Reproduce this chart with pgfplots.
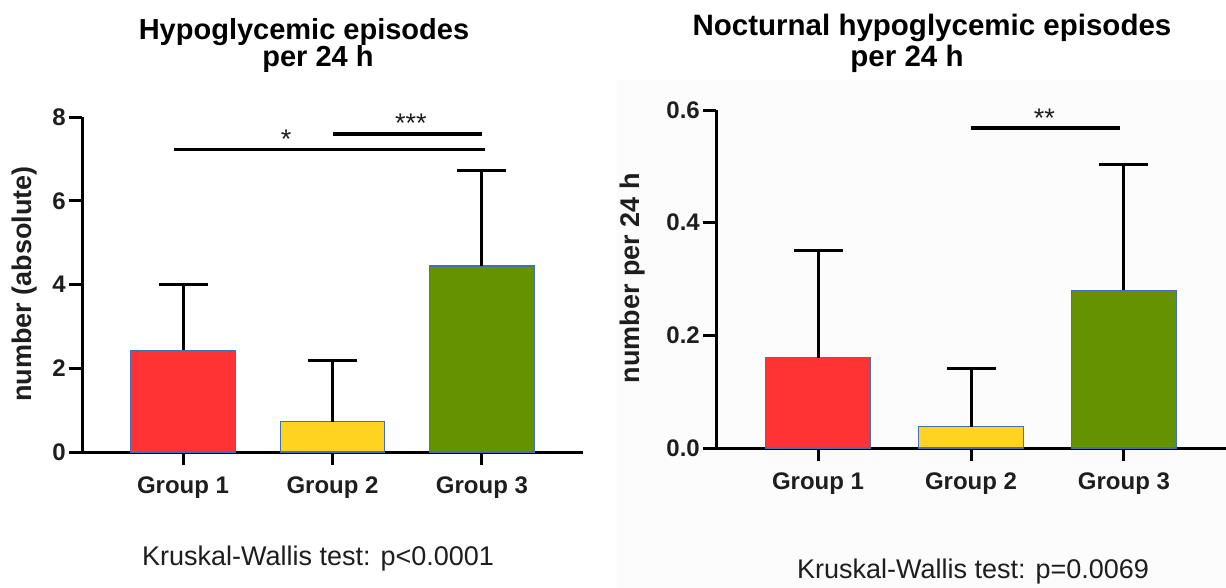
\documentclass[border=0pt]{standalone}
\usepackage{pgfplots}
\pgfplotsset{compat=1.18}
\usepackage{fontspec}
\setmainfont{Liberation Sans}
\definecolor{gred}{RGB}{255,51,51}
\definecolor{gyel}{RGB}{255,211,32}
\definecolor{ggrn}{RGB}{100,146,0}
\definecolor{edgec}{RGB}{70,110,180}
\definecolor{txt}{RGB}{30,30,30}
\pgfplotsset{
  mybars/.style={
    scale only axis, clip=false,
    axis x line=bottom, axis y line=left,
    axis line style={line width=3bp,-},
    tick align=outside, major tick length=13bp,
    major tick style={line width=3bp,black},
    xtick={1,2,3}, xticklabels={Group 1,Group 2,Group 3},
    ticklabel style={font=\bfseries\fontsize{24bp}{24bp}\selectfont, text=txt},
    xticklabel style={inner sep=0pt, yshift=-12bp},
    yticklabel style={inner sep=3bp},
  },
  gbar/.style={ybar, bar shift=0pt, bar width=#1, draw=edgec, line width=1.2bp,
    error bars/y dir=plus, error bars/y explicit,
    error bars/error bar style={line width=3bp, black},
    error bars/error mark options={rotate=90, line width=3bp, black, mark size=24.5bp}},
  sig/.style={line width=3.5bp, black, no markers},
}
\begin{document}
\begin{tikzpicture}
\useasboundingbox (0,0) rectangle (1226bp,-588bp);
\fill[white] (0,0) rectangle (1226bp,-588bp);
\fill[gray!2] (617bp,-80bp) rectangle (1226bp,-588bp);
% ---- left panel ----
\begin{axis}[mybars, at={(82bp,-452bp)}, anchor=south west,
  width=501bp, height=335bp, xmin=0.324, xmax=3.676, ymin=0, ymax=8,
  ytick={0,2,4,6,8}, yticklabels={0,2,4,6,8}]
\addplot[fill=gred, gbar=0.70] coordinates {(1,2.43) +- (0,1.58)};
\addplot[fill=gyel, gbar=0.70] coordinates {(2,0.72) +- (0,1.46)};
\addplot[fill=ggrn, gbar=0.70] coordinates {(3,4.44) +- (0,2.29)};
\addplot[sig] coordinates {(0.94,7.22) (3.02,7.22)};
\addplot[sig] coordinates {(2.003,7.60) (3.0,7.60)};
\node[anchor=base, font=\fontsize{27bp}{27bp}\selectfont, text=txt] at (axis cs:1.69,7.25) {*};
\node[anchor=base, font=\fontsize{27bp}{27bp}\selectfont, text=txt] at (axis cs:2.525,7.63) {***};
\end{axis}
% ---- right panel ----
\begin{axis}[mybars, at={(716bp,-448bp)}, anchor=south west,
  width=510bp, height=338bp, xmin=0.333, xmax=3.667, ymin=0, ymax=0.6,
  ytick={0,0.2,0.4,0.6}, yticklabels={0.0,0.2,0.4,0.6}]
\addplot[fill=gred, gbar=0.69] coordinates {(1,0.160) +- (0,0.191)};
\addplot[fill=gyel, gbar=0.69] coordinates {(2,0.038) +- (0,0.103)};
\addplot[fill=ggrn, gbar=0.69] coordinates {(3,0.280) +- (0,0.224)};
\addplot[sig] coordinates {(2.0,0.568) (2.974,0.568)};
\node[anchor=base, font=\fontsize{27bp}{27bp}\selectfont, text=txt] at (axis cs:2.48,0.569) {**};
\end{axis}
% ---- titles & labels ----
\node[anchor=base, font=\bfseries\fontsize{29bp}{29bp}\selectfont] at (304bp,-39bp) {Hypoglycemic episodes};
\node[anchor=base, font=\bfseries\fontsize{29bp}{29bp}\selectfont] at (318bp,-66bp) {per 24 h};
\node[anchor=base, font=\bfseries\fontsize{29.5bp}{29.5bp}\selectfont] at (932bp,-35bp) {Nocturnal hypoglycemic episodes};
\node[anchor=base, font=\bfseries\fontsize{29.5bp}{29.5bp}\selectfont] at (907bp,-66bp) {per 24 h};
\node[rotate=90, font=\bfseries\fontsize{27bp}{27bp}\selectfont, text=txt] at (25bp,-284bp) {number (absolute)};
\node[rotate=90, font=\bfseries\fontsize{27bp}{27bp}\selectfont, text=txt] at (633bp,-278bp) {number per 24 h};
\node[anchor=base, font=\fontsize{27bp}{27bp}\selectfont, text=txt] at (318bp,-565bp) {Kruskal-Wallis test: p<0.0001};
\node[anchor=base, font=\fontsize{27bp}{27bp}\selectfont, text=txt] at (973bp,-578bp) {Kruskal-Wallis test: p=0.0069};
\end{tikzpicture}
\end{document}
